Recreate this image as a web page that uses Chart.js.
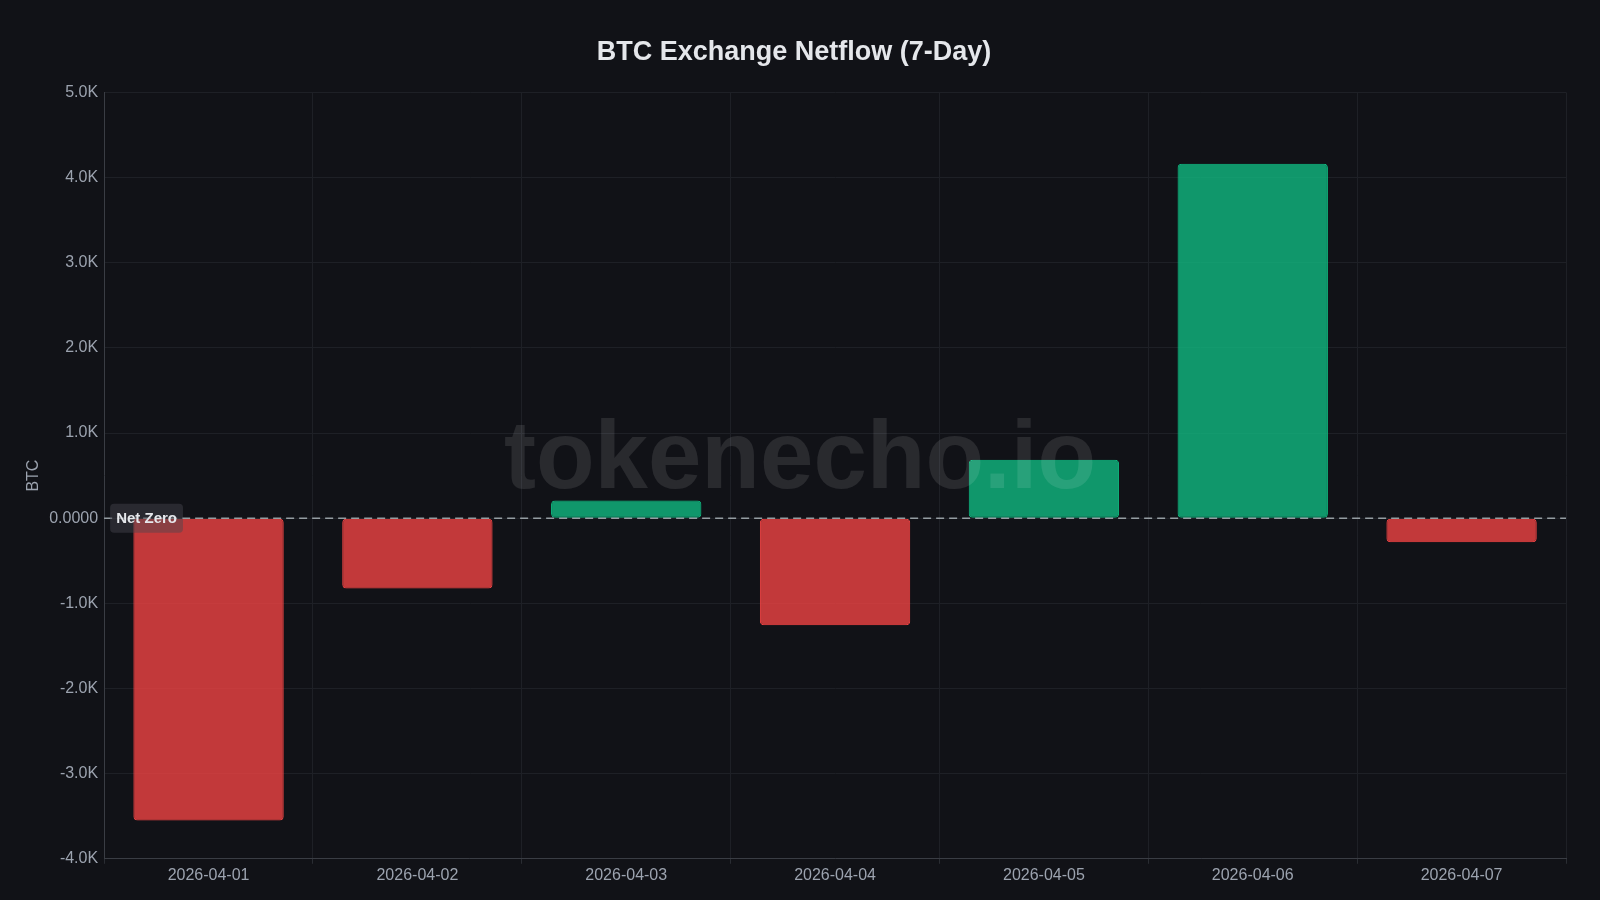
<!DOCTYPE html>
<html>
<head>
<meta charset="utf-8">
<title>BTC Exchange Netflow</title>
<script src="https://cdn.jsdelivr.net/npm/chart.js@4.4.1/dist/chart.umd.min.js"></script>
<style>
    html, body { margin: 0; padding: 0; background: #111217; }
    #wrap { width: 1600px; height: 900px; position: relative; }
</style>
</head>
<body>
<div id="wrap"><canvas id="netflowChart" width="1600" height="900"></canvas></div>
<script>
// data
const days = ['2026-04-01', '2026-04-02', '2026-04-03', '2026-04-04', '2026-04-05', '2026-04-06', '2026-04-07'];
const netflow = [-3550, -825, 208, -1256, 687, 4161, -282];
const yTicks = [-4000, -3000, -2000, -1000, 0, 1000, 2000, 3000, 4000, 5000];

const GREEN = 'rgba(16, 185, 129, 0.8)';
const GREEN_LINE = 'rgb(16, 185, 129)';
const RED = 'rgba(239, 68, 68, 0.8)';
const RED_LINE = 'rgb(239, 68, 68)';
const FONT = "'Helvetica Neue', Helvetica, Arial, 'Liberation Sans', sans-serif";

Chart.defaults.font.family = FONT;
Chart.defaults.color = '#9ca3af';

// dashed zero line with a small label box
const netZeroLine = {
    id: 'netZeroLine',
    afterDatasetsDraw(chart) {
        const { ctx, chartArea, scales } = chart;
        const y = scales.y.getPixelForValue(0);
        ctx.save();
        ctx.strokeStyle = 'rgba(170, 180, 185, 0.85)';
        ctx.lineWidth = 1.5;
        ctx.setLineDash([8, 5]);
        ctx.beginPath();
        ctx.moveTo(chartArea.left, y);
        ctx.lineTo(chartArea.right, y);
        ctx.stroke();
        ctx.setLineDash([]);

        ctx.font = 'bold 15px ' + FONT;
        const text = 'Net Zero';
        const w = ctx.measureText(text).width + 12;
        const h = 29;
        const x = chartArea.left + 6;
        ctx.fillStyle = 'rgba(70, 72, 80, 0.45)';
        ctx.beginPath();
        ctx.roundRect(x, y - h / 2, w, h, 4);
        ctx.fill();
        ctx.fillStyle = '#e5e7eb';
        ctx.textBaseline = 'middle';
        ctx.fillText(text, x + 6, y + 1);
        ctx.restore();
    }
};

const watermark = {
    id: 'watermark',
    afterDraw(chart) {
        const { ctx, width, height } = chart;
        ctx.save();
        ctx.font = 'bold 96px ' + FONT;
        ctx.fillStyle = 'rgba(255, 255, 255, 0.1)';
        ctx.textAlign = 'center';
        ctx.textBaseline = 'middle';
        ctx.fillText('tokenecho.io', width / 2, height / 2 + 12);
        ctx.restore();
    }
};

const ctx = document.getElementById('netflowChart').getContext('2d');
new Chart(ctx, {
    type: 'bar',
    data: {
        labels: days,
        datasets: [{
            label: 'Netflow',
            data: netflow,
            backgroundColor: netflow.map(v => v >= 0 ? GREEN : RED),
            borderColor: netflow.map(v => v >= 0 ? GREEN_LINE : RED_LINE),
            borderWidth: 1,
            borderRadius: 4,
            borderSkipped: false,
            barPercentage: 0.8,
            categoryPercentage: 0.9
        }]
    },
    options: {
        responsive: false,
        animation: false,
        layout: { padding: { left: 22, right: 34, top: 22, bottom: 13 } },
        plugins: {
            legend: { display: false },
            tooltip: { enabled: false },
            title: {
                display: true,
                text: 'BTC Exchange Netflow (7-Day)',
                color: '#e5e7eb',
                font: { size: 27, weight: 'bold' },
                padding: { top: 14, bottom: 24 }
            }
        },
        scales: {
            x: {
                offset: true,
                grid: { color: '#1e2026', offset: true, tickLength: 5, tickColor: '#2a2d33' },
                border: { color: '#3a3d44' },
                ticks: { color: '#9ca3af', font: { size: 16 }, padding: 2 }
            },
            y: {
                min: -4000,
                max: 5000,
                afterBuildTicks(axis) {
                    axis.ticks = yTicks.map(v => ({ value: v }));
                },
                grid: { color: '#1e2026', drawTicks: false },
                border: { color: '#3a3d44' },
                ticks: {
                    color: '#9ca3af',
                    font: { size: 16 },
                    padding: 6,
                    callback: v => v === 0 ? '0.0000' : (v / 1000).toFixed(1) + 'K'
                },
                title: {
                    display: true,
                    text: 'BTC',
                    color: '#9ca3af',
                    font: { size: 16 },
                    padding: { top: 2, bottom: 0 }
                }
            }
        }
    },
    plugins: [netZeroLine, watermark]
});
</script>
</body>
</html>
